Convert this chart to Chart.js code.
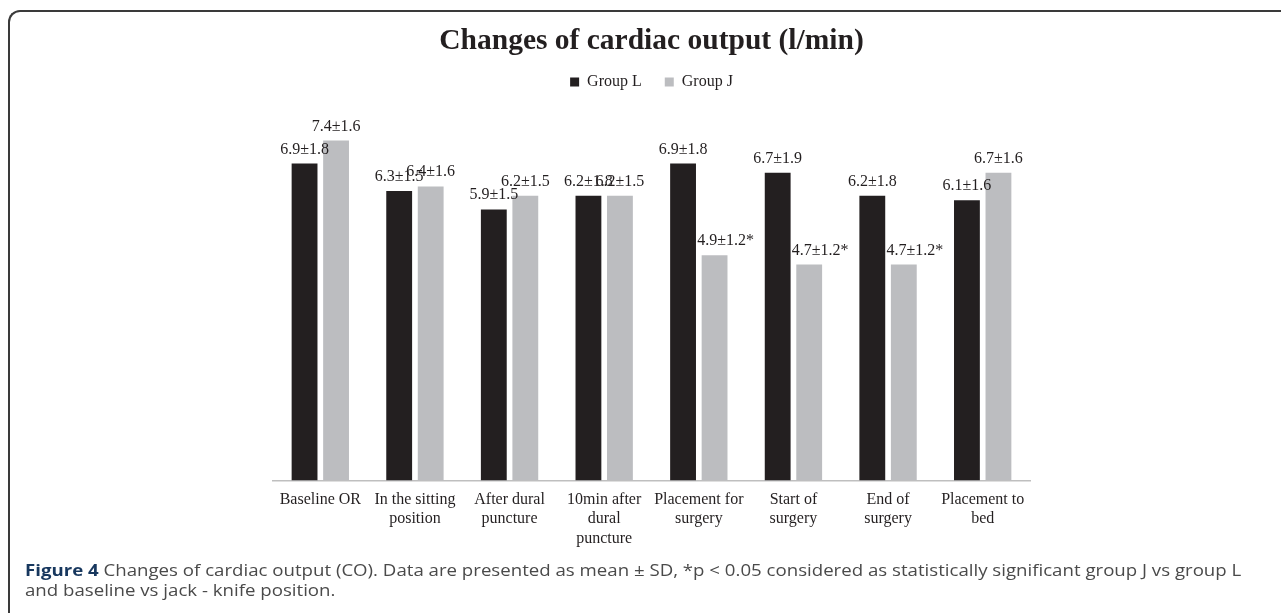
<!DOCTYPE html>
<html>
<head>
<meta charset="utf-8">
<script src="https://cdn.jsdelivr.net/npm/chart.js@4.4.1/dist/chart.umd.min.js"></script>
<style>
  body { margin: 0; background: #fff; width: 1281px; height: 613px; overflow: hidden; position: relative; }
  #frame {
    position: absolute; left: 8px; top: 10px; width: 1400px; height: 700px;
    border-left: 2px solid #3a3a3a; border-top: 2px solid #3a3a3a;
    border-top-left-radius: 12px;
  }
  #wrap { position: absolute; left: 0; top: 0; width: 1302px; height: 560px; }
  #caption {
    position: absolute; left: 25px; top: 560px; width: 1100px;
    font-family: "Open Sans", sans-serif; font-size: 16px; line-height: 20px;
    color: #4a4a4a; white-space: nowrap;
    transform: scaleX(1.165); transform-origin: left top;
  }
  #caption b { color: #17375e; }
</style>
</head>
<body>
<div id="frame"></div>
<div id="wrap"><canvas id="myChart"></canvas></div>
<div id="caption"><b>Figure 4</b> Changes of cardiac output (CO). Data are presented as mean ± SD, *p &lt; 0.05 considered as statistically significant group J vs group L<br>and baseline vs jack - knife position.</div>
<script>
// Chart data
const categories = [
  ['Baseline OR'],
  ['In the sitting', 'position'],
  ['After dural', 'puncture'],
  ['10min after', 'dural', 'puncture'],
  ['Placement for', 'surgery'],
  ['Start of', 'surgery'],
  ['End of', 'surgery'],
  ['Placement to', 'bed']
];
const groupL = [6.9, 6.3, 5.9, 6.2, 6.9, 6.7, 6.2, 6.1];
const groupLsd = [1.8, 1.5, 1.5, 1.8, 1.8, 1.9, 1.8, 1.6];
const groupJ = [7.4, 6.4, 6.2, 6.2, 4.9, 4.7, 4.7, 6.7];
const groupJsd = [1.6, 1.6, 1.5, 1.5, 1.2, 1.2, 1.2, 1.6];
const groupJsig = [false, false, false, false, true, true, true, false];

const serif = '"Liberation Serif", "Times New Roman", serif';

// Draw "mean±SD" labels above every bar
const valueLabels = {
  id: 'valueLabels',
  afterDatasetsDraw(chart) {
    const ctx = chart.ctx;
    ctx.save();
    ctx.font = '16px ' + serif;
    ctx.fillStyle = '#231f20';
    ctx.textAlign = 'center';
    ctx.textBaseline = 'alphabetic';
    chart.data.datasets.forEach((ds, di) => {
      const meta = chart.getDatasetMeta(di);
      meta.data.forEach((bar, i) => {
        const star = ds.sig && ds.sig[i];
        const text = ds.data[i].toFixed(1) + '±' + ds.sd[i].toFixed(1) + (star ? '*' : '');
        ctx.fillText(text, bar.x + (star ? 11 : 0), bar.y - 10);
      });
    });
    ctx.restore();
  }
};

const ctx = document.getElementById('myChart').getContext('2d');
const myChart = new Chart(ctx, {
  type: 'bar',
  data: {
    labels: categories,
    datasets: [
      { label: 'Group L', data: groupL, sd: groupLsd, backgroundColor: '#231f20' },
      { label: 'Group J', data: groupJ, sd: groupJsd, sig: groupJsig, backgroundColor: '#bcbdc0' }
    ]
  },
  options: {
    responsive: true,
    maintainAspectRatio: false,
    animation: false,
    categoryPercentage: 0.666,
    barPercentage: 0.82,
    layout: { padding: { left: 273, right: 272, top: 0, bottom: 2 } },
    plugins: {
      title: {
        display: true,
        text: 'Changes of cardiac output (l/min)',
        color: '#231f20',
        font: { family: serif, size: 29.5, weight: 'bold' },
        padding: { top: 24, bottom: -8.4 }
      },
      legend: {
        display: true,
        labels: {
          color: '#231f20',
          font: { family: serif, size: 16 },
          boxWidth: 9,
          boxHeight: 9,
          padding: 23
        }
      },
      tooltip: { enabled: false }
    },
    scales: {
      x: {
        grid: { display: false, drawTicks: false },
        border: { display: true, color: '#bfbfbf', width: 1.5 },
        ticks: {
          color: '#231f20',
          font: { family: serif, size: 16 },
          padding: 10,
          autoSkip: false,
          maxRotation: 0
        }
      },
      // empty top axis, only keeps a gap between legend and bars
      xTop: {
        type: 'category',
        position: 'top',
        grid: { display: false, drawTicks: false },
        border: { display: false },
        ticks: { display: false },
        afterFit: (scale) => { scale.height = 13; }
      },
      y: {
        display: false,
        min: 0,
        max: 8
      }
    }
  },
  plugins: [valueLabels]
});
</script>
</body>
</html>
